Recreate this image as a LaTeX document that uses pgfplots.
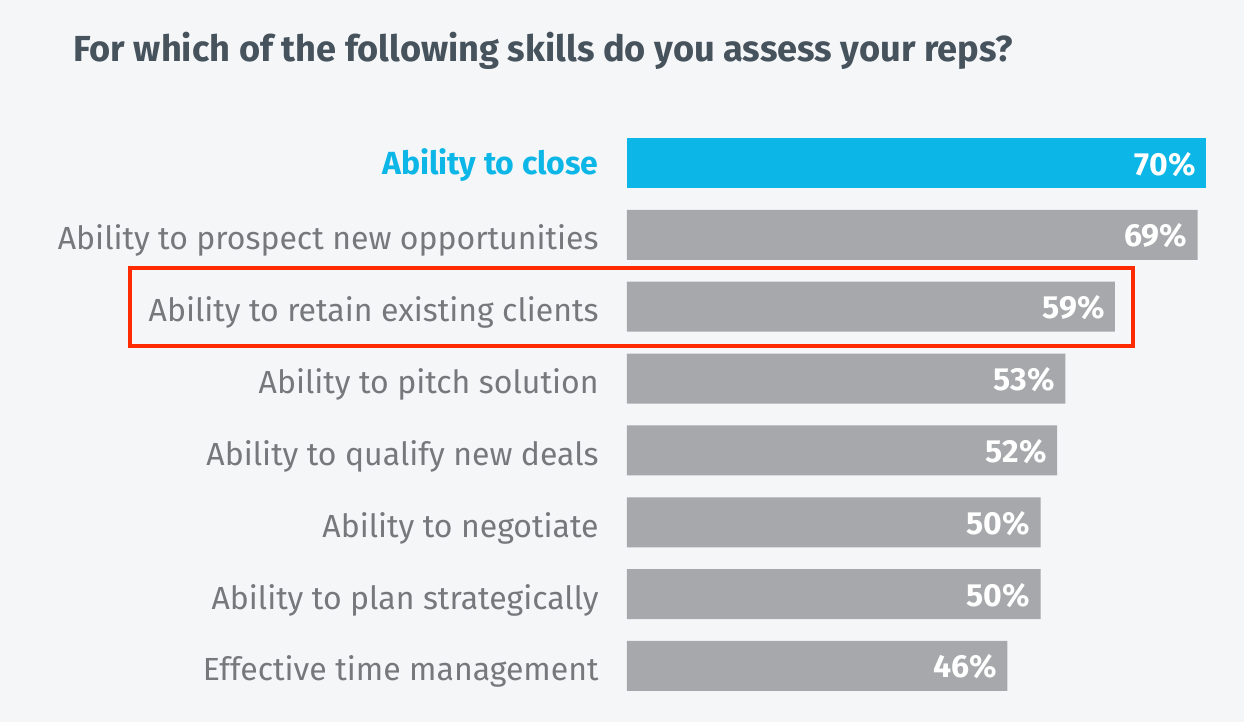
\documentclass[border=0pt]{standalone}
\usepackage{pgfplots}
\pgfplotsset{compat=1.18}
\usepackage{fontspec}
\setmainfont{Fira Sans}
\definecolor{bg}{HTML}{F5F6F8}
\definecolor{bargray}{HTML}{A7A8AB}
\definecolor{barcyan}{HTML}{0CB6E6}
\definecolor{labgray}{HTML}{77787B}
\definecolor{titlegray}{HTML}{46525C}
\definecolor{boxred}{HTML}{FF2A00}
\begin{document}
\begin{tikzpicture}
  % page is 1244x722 px at 0.5pt per px
  \fill[bg] (0,0) rectangle (622pt,361pt);
  \node[anchor=base west, inner sep=0, text=titlegray,
        font=\fontsize{18.1}{20}\selectfont\bfseries]
    at (36.5pt,330pt) {For which of the following skills do you assess your reps?};
  \begin{axis}[
      scale only axis,
      width=289.5pt, height=287.4pt,
      at={(313.5pt,10.05pt)}, anchor=south west,
      xbar, bar width=25pt,
      xmin=0, xmax=70,
      ymin=-0.5, ymax=7.5,
      y dir=reverse,
      axis line style={draw=none},
      major tick length=0pt,
      xtick=\empty,
      ytick={0,...,7},
      yticklabels={
        \raisebox{2pt}{\textcolor{barcyan}{\fontseries{sb}\selectfont Ability to close}},
        Ability to prospect new opportunities,
        Ability to retain existing clients,
        Ability to pitch solution,
        Ability to qualify new deals,
        Ability to negotiate,
        Ability to plan strategically,
        Effective time management},
      yticklabel style={anchor=base east, inner sep=0pt, xshift=-14pt, yshift=-7.5pt,
                        text=labgray, font=\fontsize{16}{18}\selectfont},
      /pgf/number format/assume math mode=true,
      nodes near coords={\pgfmathprintnumber{\pgfplotspointmeta}\%},
      point meta=x,
      nodes near coords style={anchor=base east, inner sep=0pt, xshift=-5pt, yshift=-6pt,
                               text=white, font=\fontsize{16}{18}\selectfont\bfseries},
      clip=false,
    ]
    \addplot[fill=barcyan, draw=none, bar shift=0pt] coordinates {(70,0)};
    \addplot[fill=bargray, draw=none, bar shift=0pt] coordinates {
      (69,1) (59,2) (53,3) (52,4) (50,5) (50,6) (46,7)};
    \draw[boxred, line width=2pt] (axis cs:-60.1,1.457) rectangle (axis cs:61.2,2.543);
  \end{axis}
\end{tikzpicture}
\end{document}
